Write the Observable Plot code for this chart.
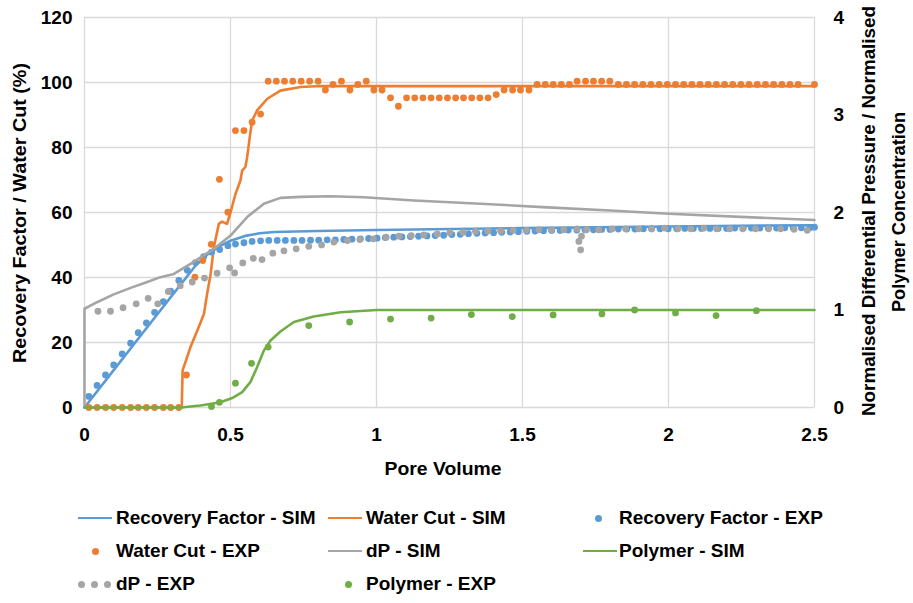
<!DOCTYPE html>
<html><head><meta charset="utf-8">
<script src="https://cdn.jsdelivr.net/npm/d3@7"></script>
<script src="https://cdn.jsdelivr.net/npm/@observablehq/plot@0.6"></script>
<style>
body{margin:0;background:#fff;}
#wrap{position:relative;width:913px;height:603px;font-family:"Liberation Sans",Arial,sans-serif;font-weight:bold;color:#000;}
#wrap svg{display:block;}
.lg{position:absolute;height:24px;font-size:19px;line-height:24px;white-space:nowrap;}
.sw{position:absolute;}
</style></head><body><div id="wrap"></div>
<script>
// ---- tick labels ----
const xTicks = [0, 0.5, 1, 1.5, 2, 2.5];
const yTicks = [0, 20, 40, 60, 80, 100, 120];
const y2Ticks = [0, 1, 2, 3, 4];

// ---- series (x = pore volume) ----
// Recovery Factor - SIM (%)
const rfSim = [[0,0],[0.1,11.5],[0.2,23],[0.3,34.5],[0.38,43.6],[0.42,47],[0.46,49.5],[0.5,51.3],[0.55,52.8],[0.6,53.6],[0.65,54],[0.8,54.3],[1,54.6],[1.5,55.2],[2,55.7],[2.5,56.1]];
// Water Cut - SIM (%)
const wcSim = [[0,0],[0.333,0],[0.336,11.4],[0.363,18.6],[0.391,24.7],[0.409,28.8],[0.42,35],[0.432,41.1],[0.443,49.3],[0.46,56.5],[0.471,57.2],[0.488,56.5],[0.5,60],[0.517,65.7],[0.534,69.8],[0.54,72.9],[0.551,74],[0.557,77],[0.566,83.2],[0.574,88.3],[0.591,91.4],[0.626,95],[0.671,97.5],[0.74,98.6],[0.808,98.9],[1,98.9],[2.5,98.9]];
// Recovery Factor - EXP (%)
const rfExp = [[0.015,3.4],[0.043,6.8],[0.072,10],[0.1,13.1],[0.129,16.5],[0.158,19.8],[0.184,23],[0.212,26],[0.24,29.3],[0.27,32.6],[0.295,35.8],[0.323,39.1],[0.352,42.2],[0.38,44.6],[0.408,46.4],[0.435,47.8],[0.463,48.6],[0.491,49.8],[0.517,50.3],[0.546,50.7],[0.574,51.1],[0.603,51.3],[0.631,51.4],[0.66,51.4],[0.688,51.4],[0.717,51.4],[0.745,51.4],[0.774,51.5],[0.802,51.5],[0.831,51.6],[0.859,51.6],[0.888,51.7],[0.916,51.8],[0.945,51.9],[0.973,52],[1.002,52.1],[1.03,52.3],[1.059,52.4],[1.087,52.5],[1.116,52.6],[1.144,52.7],[1.173,52.8],[1.201,52.9],[1.23,53],[1.258,53.2],[1.287,53.3],[1.315,53.5],[1.344,53.6],[1.372,53.7],[1.401,53.8],[1.429,53.9],[1.458,54],[1.486,54.1],[1.515,54.2],[1.543,54.3],[1.572,54.4],[1.6,54.5],[1.629,54.5],[1.657,54.6],[1.686,54.6],[1.714,54.7],[1.743,54.7],[1.771,54.8],[1.8,54.8],[1.828,54.9],[1.857,54.9],[1.885,54.9],[1.914,55],[1.942,55],[1.971,55],[1.999,55],[2.028,55],[2.056,55.1],[2.085,55.1],[2.113,55.1],[2.142,55.1],[2.17,55.1],[2.199,55.1],[2.227,55.2],[2.256,55.2],[2.284,55.2],[2.313,55.2],[2.341,55.2],[2.37,55.2],[2.398,55.3],[2.427,55.3],[2.455,55.3],[2.484,55.3],[2.5,55.5]];
// Water Cut - EXP (%)
const wcExp = [[0.015,0],[0.043,0],[0.072,0],[0.1,0],[0.129,0],[0.158,0],[0.184,0],[0.212,0],[0.24,0],[0.27,0],[0.295,0],[0.323,0],[0.349,10],[0.378,40.1],[0.405,45.2],[0.434,50.2],[0.462,70.2],[0.491,60.1],[0.517,85.2],[0.546,85.2],[0.574,87.8],[0.603,90.3],[0.629,100.4],[0.657,100.4],[0.685,100.4],[0.713,100.4],[0.742,100.4],[0.771,100.4],[0.8,100.4],[0.825,97.7],[0.851,99.4],[0.88,100.4],[0.909,97.7],[0.936,99.4],[0.965,100.4],[0.991,97.7],[1.019,97.7],[1.048,95.3],[1.075,92.7],[1.103,95.3],[1.131,95.3],[1.159,95.3],[1.187,95.3],[1.215,95.3],[1.243,95.3],[1.271,95.3],[1.298,95.3],[1.326,95.3],[1.354,95.3],[1.382,95.3],[1.41,96.3],[1.437,97.7],[1.466,97.7],[1.493,97.7],[1.522,97.7],[1.55,99.4],[1.578,99.4],[1.605,99.4],[1.633,99.4],[1.661,99.4],[1.687,100.4],[1.716,100.4],[1.743,100.4],[1.771,100.4],[1.799,100.4],[1.828,99.4],[1.856,99.4],[1.884,99.4],[1.912,99.4],[1.94,99.4],[1.968,99.4],[1.996,99.4],[2.024,99.4],[2.052,99.4],[2.08,99.4],[2.108,99.4],[2.136,99.4],[2.164,99.4],[2.192,99.4],[2.22,99.4],[2.248,99.4],[2.276,99.4],[2.304,99.4],[2.332,99.4],[2.36,99.4],[2.388,99.4],[2.416,99.4],[2.444,99.4],[2.5,99.4]];
// dP - SIM (normalised, right axis)
const dpSim = [[0,0],[0,1.013],[0.043,1.08],[0.1,1.16],[0.158,1.227],[0.215,1.287],[0.26,1.337],[0.306,1.37],[0.363,1.473],[0.443,1.627],[0.5,1.763],[0.557,1.953],[0.614,2.09],[0.671,2.15],[0.74,2.16],[0.842,2.167],[0.957,2.157],[1.128,2.123],[1.356,2.09],[1.585,2.053],[1.8,2.02],[2,1.987],[2.5,1.923]];
// dP - EXP (normalised, right axis)
const dpExp = [[0.046,0.987],[0.089,0.987],[0.132,1.023],[0.177,1.063],[0.218,1.12],[0.251,1.063],[0.287,1.19],[0.328,1.25],[0.369,1.287],[0.411,1.327],[0.454,1.377],[0.497,1.433],[0.514,1.38],[0.542,1.483],[0.578,1.53],[0.608,1.517],[0.645,1.583],[0.683,1.607],[0.725,1.627],[0.768,1.653],[0.812,1.667],[0.854,1.697],[0.9,1.713],[0.943,1.723],[0.989,1.73],[1.033,1.747],[1.077,1.757],[1.119,1.763],[1.162,1.77],[1.208,1.78],[1.251,1.793],[1.296,1.797],[1.339,1.807],[1.381,1.81],[1.425,1.81],[1.468,1.817],[1.513,1.817],[1.556,1.823],[1.599,1.823],[1.641,1.823],[1.687,1.833],[1.693,1.703],[1.699,1.617],[1.702,1.757],[1.719,1.823],[1.761,1.823],[1.807,1.833],[1.853,1.833],[1.898,1.833],[1.942,1.833],[1.987,1.84],[2.032,1.833],[2.076,1.833],[2.121,1.84],[2.165,1.833],[2.21,1.833],[2.254,1.833],[2.298,1.833],[2.343,1.833],[2.384,1.833],[2.43,1.827],[2.475,1.817]];
// Polymer - SIM (normalised, right axis)
const polySim = [[0,0],[0.33,0],[0.397,0.02],[0.466,0.053],[0.506,0.097],[0.54,0.157],[0.568,0.26],[0.591,0.413],[0.614,0.583],[0.637,0.687],[0.671,0.78],[0.717,0.877],[0.785,0.933],[0.877,0.977],[1,1],[2.5,1]];
// Polymer - EXP (normalised, right axis)
const polyExp = [[0.435,0.01],[0.462,0.053],[0.517,0.25],[0.572,0.453],[0.629,0.62],[0.768,0.84],[0.908,0.877],[1.048,0.907],[1.187,0.917],[1.325,0.953],[1.465,0.933],[1.605,0.95],[1.772,0.96],[1.884,1.0],[2.024,0.97],[2.163,0.943],[2.301,0.993]];

const seriesNames = ["Recovery Factor - SIM","Water Cut - SIM","Recovery Factor - EXP","Water Cut - EXP","dP - SIM","Polymer - SIM","dP - EXP","Polymer - EXP"];
const BLUE="#5B9BD5", ORANGE="#ED7D31", GRAY="#A5A5A5", GREEN="#70AD47";
const FONT = '"Liberation Sans",Arial,sans-serif';

const ratio = yTicks[yTicks.length-1] / y2Ticks[y2Ticks.length-1];
const X = d => d[0], Y = d => d[1], Y2 = d => d[1] * ratio;
const LW = 2.6, R = 3.4;

const svg = Plot.plot({
  width: 913, height: 490,
  marginLeft: 84, marginRight: 99, marginTop: 17, marginBottom: 83,
  style: {fontFamily: FONT, fontSize: "19px", fontWeight: "bold", color: "#000", background: "#fff"},
  x: {domain: [0, 2.5]},
  y: {domain: [0, 120]},
  marks: [
    Plot.gridX(xTicks, {stroke: "#D9D9D9", strokeOpacity: 1, strokeWidth: 1.3}),
    Plot.gridY(yTicks, {stroke: "#D9D9D9", strokeOpacity: 1, strokeWidth: 1.3}),
    Plot.axisX(xTicks, {tickSize: 0, tickPadding: 20, tickFormat: d => String(d), label: null}),
    Plot.axisY(yTicks, {tickSize: 0, tickPadding: 12, tickFormat: d => String(d), label: null}),
    Plot.axisY(y2Ticks.map(v => v * ratio), {anchor: "right", tickSize: 0, tickPadding: 19, textAnchor: "start", tickFormat: d => String(d / ratio), label: null}),
    Plot.line(rfSim, {x: X, y: Y, stroke: BLUE, strokeWidth: LW}),
    Plot.line(wcSim, {x: X, y: Y, stroke: ORANGE, strokeWidth: LW}),
    Plot.dot(rfExp, {x: X, y: Y, r: R, fill: BLUE}),
    Plot.dot(wcExp, {x: X, y: Y, r: R, fill: ORANGE}),
    Plot.line(dpSim, {x: X, y: Y2, stroke: GRAY, strokeWidth: LW}),
    Plot.line(polySim, {x: X, y: Y2, stroke: GREEN, strokeWidth: LW}),
    Plot.dot(dpExp, {x: X, y: Y2, r: R, fill: GRAY}),
    Plot.dot(polyExp, {x: X, y: Y2, r: R, fill: GREEN})
  ]
});

// axis titles
const s = d3.select(svg);
function title(txt, x, y, rot, len) {
  const t = s.append("text").attr("transform", `translate(${x},${y})` + (rot ? " rotate(-90)" : ""))
    .attr("text-anchor", "middle").attr("dominant-baseline", "central")
    .attr("fill", "#000").style("font-size", "19px").style("font-weight", "bold").text(txt);
  if (len) t.attr("textLength", len).attr("lengthAdjust", "spacingAndGlyphs");
}
title("Recovery Factor / Water Cut (%)", 19, 213, true, 300);
title("Normalised Differential Pressure / Normalised", 868, 211, true, 410);
title("Polymer Concentration", 898, 212, true, 200);
title("Pore Volume", 443, 468, false, 117);

const wrap = document.getElementById("wrap");
wrap.appendChild(svg);

// legend
const legendItems = [
  {name: seriesNames[0], kind: "line", color: BLUE,   cx: 95,  tx: 116, cy: 518},
  {name: seriesNames[1], kind: "line", color: ORANGE, cx: 345, tx: 366, cy: 518},
  {name: seriesNames[2], kind: "dot",  color: BLUE,   cx: 598, tx: 619, cy: 518},
  {name: seriesNames[3], kind: "dot",  color: ORANGE, cx: 95,  tx: 116, cy: 551},
  {name: seriesNames[4], kind: "line", color: GRAY,   cx: 345, tx: 366, cy: 551},
  {name: seriesNames[5], kind: "line", color: GREEN,  cx: 600, tx: 619, cy: 551},
  {name: seriesNames[6], kind: "dots", color: GRAY,   cx: 94,  tx: 116, cy: 584},
  {name: seriesNames[7], kind: "dot",  color: GREEN,  cx: 348, tx: 366, cy: 584}
];
for (const it of legendItems) {
  if (it.kind === "line") {
    const e = document.createElement("div"); e.className = "sw";
    Object.assign(e.style, {left: (it.cx - 17) + "px", top: (it.cy - 1.3) + "px", width: "34px", height: "2.6px", background: it.color});
    wrap.appendChild(e);
  } else {
    const offs = it.kind === "dots" ? [-13, 0, 13] : [0];
    for (const o of offs) {
      const e = document.createElement("div"); e.className = "sw";
      Object.assign(e.style, {left: (it.cx + o - 3.5) + "px", top: (it.cy - 3.5) + "px", width: "7px", height: "7px", borderRadius: "50%", background: it.color});
      wrap.appendChild(e);
    }
  }
  const t = document.createElement("div"); t.className = "lg"; t.textContent = it.name;
  Object.assign(t.style, {left: it.tx + "px", top: (it.cy - 12) + "px"});
  wrap.appendChild(t);
}
</script></body></html>
